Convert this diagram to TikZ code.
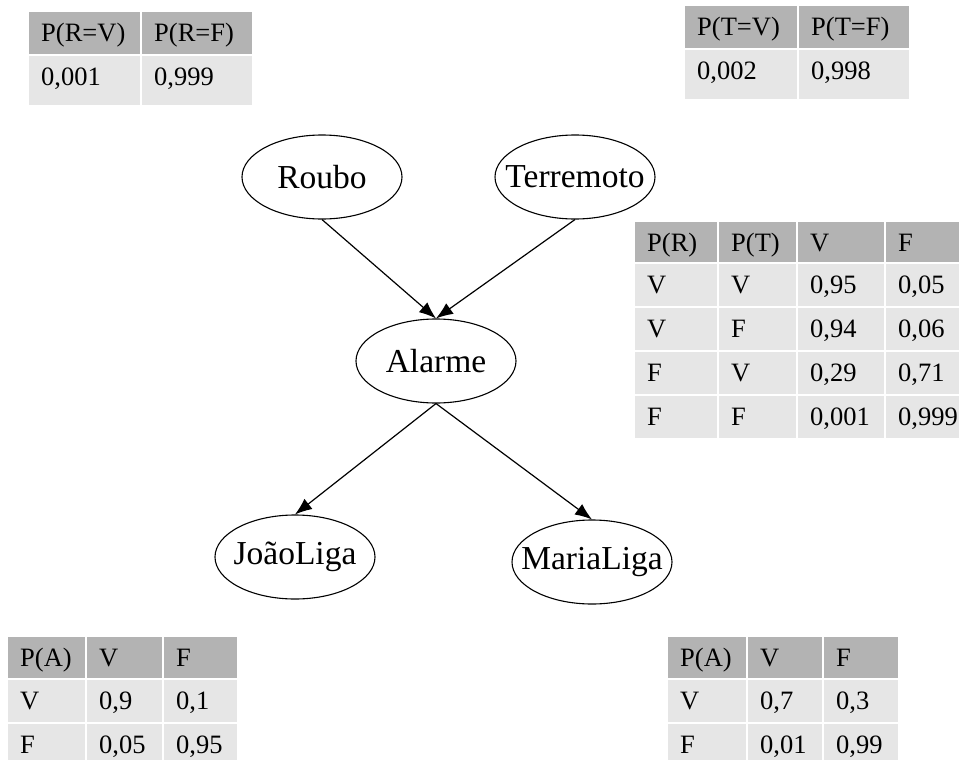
\documentclass[tikz,border=0pt]{standalone}
\usepackage{fontspec}
\setmainfont{Liberation Serif}
\usetikzlibrary{arrows.meta,matrix,shapes.geometric}
\definecolor{hdgray}{RGB}{179,179,179}
\definecolor{rowgray}{RGB}{230,230,230}
\tikzset{
  var/.style={draw,ellipse,line width=1.1pt,minimum width=160pt,minimum height=84pt,
    inner xsep=-16pt,inner ysep=0pt,font=\fontsize{33.5}{38}\selectfont},
  edge/.style={line width=1.2pt,-{Latex[length=17pt,width=13pt]}},
  cell/.style={fill=rowgray,inner xsep=12pt,inner ysep=0pt,text height=29pt,text depth=13pt,
    align=left,font=\fontsize{26.5}{30}\selectfont},
  cpt/.style={matrix of nodes,inner sep=0pt,column sep=2pt,row sep=2pt,anchor=north west,
    nodes={cell},row 1/.style={nodes={fill=hdgray}}}
}
\begin{document}
\begin{tikzpicture}[x=1pt,y=-1pt]
\useasboundingbox (0,0) rectangle (959,760);
\clip (0,0) rectangle (959,760);
\node[var] (roubo) at (322,177) {Roubo};
\node[var] (terremoto) at (575,177) {Terremoto};
\node[var] (alarme) at (436,361) {Alarme};
\node[var] (joao) at (295,557) {JoãoLiga};
\node[var] (maria) at (592,562) {MariaLiga};
\draw[edge] (roubo.south) -- (alarme.north);
\draw[edge] (terremoto.south) -- (alarme.north);
\draw[edge] (alarme.south) -- (joao.north);
\draw[edge] (alarme.south) -- (maria.north);
\matrix (tabR) [cpt,column 1/.style={nodes={text width=87pt}},column 2/.style={nodes={text width=86pt}},
  row 2/.style={nodes={text depth=20pt}}] at (29,12) {
P(R=V) & P(R=F) \\
0,001 & 0,999 \\
};
\matrix (tabT) [cpt,column 1/.style={nodes={text width=88pt}},column 2/.style={nodes={text width=86pt}},
  row 2/.style={nodes={text depth=20pt}}] at (685,6) {
P(T=V) & P(T=F) \\
0,002 & 0,998 \\
};
\matrix (tabA) [cpt,column 1/.style={nodes={text width=58pt}},column 2/.style={nodes={text width=53pt}},
  column 3/.style={nodes={text width=62pt}},column 4/.style={nodes={text width=53pt}},
  row 1/.style={nodes={fill=hdgray,text depth=11pt}}] at (635,222) {
P(R) & P(T) & V & F \\
V & V & 0,95 & 0,05 \\
V & F & 0,94 & 0,06 \\
F & V & 0,29 & 0,71 \\
F & F & 0,001 & 0,999 \\
};
\matrix (tabJ) [cpt,column 1/.style={nodes={text width=53pt}},column 2/.style={nodes={text width=51pt}},
  column 3/.style={nodes={text width=49pt}},row 1/.style={nodes={fill=hdgray,text depth=12pt}},
  row 3/.style={nodes={text depth=15pt}}] at (8,637) {
P(A) & V & F \\
V & 0,9 & 0,1 \\
F & 0,05 & 0,95 \\
};
\matrix (tabM) [cpt,column 1/.style={nodes={text width=54pt}},column 2/.style={nodes={text width=50pt}},
  column 3/.style={nodes={text width=50pt}},row 1/.style={nodes={fill=hdgray,text depth=12pt}},
  row 3/.style={nodes={text depth=15pt}}] at (668,637) {
P(A) & V & F \\
V & 0,7 & 0,3 \\
F & 0,01 & 0,99 \\
};
\end{tikzpicture}
\end{document}
